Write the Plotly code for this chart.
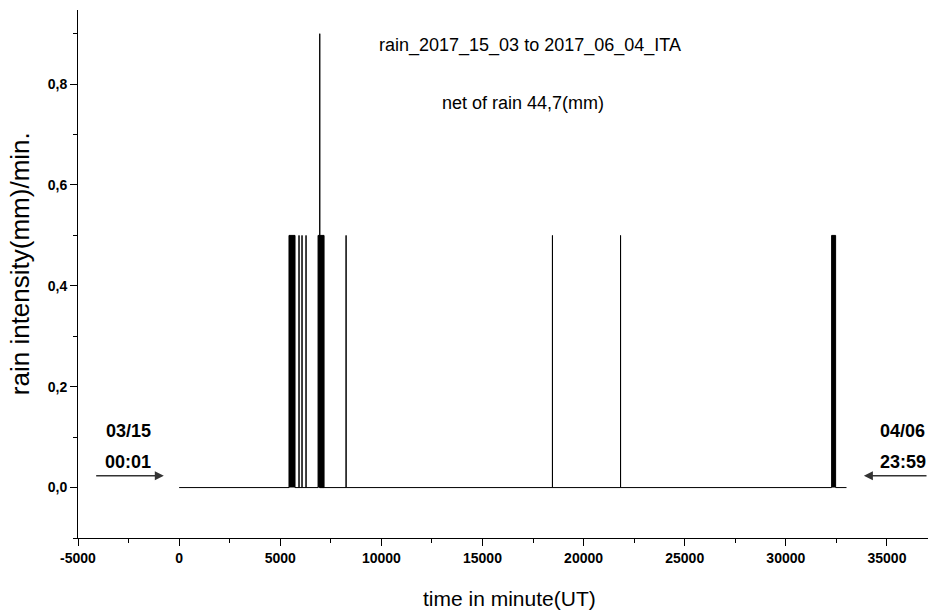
import plotly.graph_objects as go

# ---- data (minutes since 03/15 00:01, intensity mm/min) ----
event_start = [5433, 5929, 6077, 6276, 6870, 6954, 8256, 18460, 21828, 32264]
event_end   = [5731, 5929, 6077, 6276, 7167, 6954, 8256, 18460, 21828, 32462]
event_peak  = [0.5, 0.5, 0.5, 0.5, 0.5, 0.9, 0.5, 0.5, 0.5, 0.5]
record_start = 0
record_end = 33000

x_tick_vals = [-5000, 0, 5000, 10000, 15000, 20000, 25000, 30000, 35000]
x_tick_text = ["-5000", "0", "5000", "10000", "15000", "20000", "25000", "30000", "35000"]
y_tick_vals = [0.0, 0.2, 0.4, 0.6, 0.8]
y_tick_text = ["0,0", "0,2", "0,4", "0,6", "0,8"]

title_line1 = "rain_2017_15_03 to 2017_06_04_ITA"
title_line2 = "net of rain 44,7(mm)"
start_date, start_time = "03/15", "00:01"
end_date, end_time = "04/06", "23:59"

# ---- build path ----
xs = [record_start]
ys = [0]
for s, e, v in zip(event_start, event_end, event_peak):
    xs += [s, s, e, e]
    ys += [0, v, v, 0]
xs.append(record_end)
ys.append(0)

fig = go.Figure()
fig.add_trace(go.Scatter(
    x=xs, y=ys, mode="lines",
    line=dict(color="black", width=1),
    fill="tozeroy", fillcolor="black",
    hoverinfo="skip", showlegend=False,
))

FONT = "Liberation Sans, Arial, sans-serif"

fig.update_layout(
    width=928, height=614,
    margin=dict(l=78, r=0, t=10, b=76),
    paper_bgcolor="white", plot_bgcolor="white",
    font=dict(family=FONT, color="black"),
    showlegend=False,
)

fig.update_xaxes(
    range=[-5000, 37030],
    showgrid=False, zeroline=False,
    showline=True, linecolor="black", linewidth=1,
    ticks="outside", ticklen=7, tickwidth=1, tickcolor="black",
    tickvals=x_tick_vals, ticktext=x_tick_text,
    tickfont=dict(size=14, family=FONT, weight="bold"),
    minor=dict(ticks="outside", ticklen=4, tickwidth=1, tickcolor="black", dtick=2500, tick0=-5000),
)
fig.update_yaxes(
    range=[-0.1, 0.947],
    showgrid=False, zeroline=False,
    showline=True, linecolor="black", linewidth=1,
    ticks="outside", ticklen=7, tickwidth=1, tickcolor="black",
    tickvals=y_tick_vals, ticktext=y_tick_text,
    tickfont=dict(size=14, family=FONT, weight="bold"),
    minor=dict(ticks="outside", ticklen=4, tickwidth=1, tickcolor="black", dtick=0.1, tick0=0),
)

bold18 = dict(size=18, family=FONT, weight="bold")
annotations = [
    dict(text=title_line1, x=17370, y=0.877, xref="x", yref="y", showarrow=False,
         font=dict(size=18, family=FONT), xanchor="center", yanchor="middle"),
    dict(text=title_line2, x=17020, y=0.762, xref="x", yref="y", showarrow=False,
         font=dict(size=18, family=FONT), xanchor="center", yanchor="middle"),
    dict(text="rain intensity(mm)/min.", x=-0.068, y=0.519, xref="paper", yref="paper",
         showarrow=False, textangle=-90, font=dict(size=26, family=FONT),
         xanchor="center", yanchor="middle"),
    dict(text="time in minute(UT)", x=0.508, y=-0.114, xref="paper", yref="paper",
         showarrow=False, font=dict(size=21, family=FONT),
         xanchor="center", yanchor="middle"),
    dict(text=start_date, x=-2516, y=0.112, xref="x", yref="y",
         showarrow=False, font=bold18, xanchor="center", yanchor="middle"),
    dict(text=start_time, x=-2516, y=0.051, xref="x", yref="y",
         showarrow=False, font=bold18, xanchor="center", yanchor="middle"),
    dict(text=end_date, x=35770, y=0.112, xref="x", yref="y",
         showarrow=False, font=bold18, xanchor="center", yanchor="middle"),
    dict(text=end_time, x=35770, y=0.051, xref="x", yref="y",
         showarrow=False, font=bold18, xanchor="center", yanchor="middle"),
    dict(text="", x=-758, y=0.0232, ax=-4175, ay=0.0232, xref="x", yref="y",
         axref="x", ayref="y", showarrow=True, arrowhead=2, arrowsize=1.2,
         arrowwidth=1.5, arrowcolor="#333333"),
    dict(text="", x=33860, y=0.0232, ax=37030, ay=0.0232, xref="x", yref="y",
         axref="x", ayref="y", showarrow=True, arrowhead=2, arrowsize=1.2,
         arrowwidth=1.5, arrowcolor="#333333"),
]
fig.update_layout(annotations=annotations)

fig.write_html(
    "out.html",
    config={"displayModeBar": False},
    post_script="document.body.style.margin='0';document.body.style.overflow='hidden';",
)
